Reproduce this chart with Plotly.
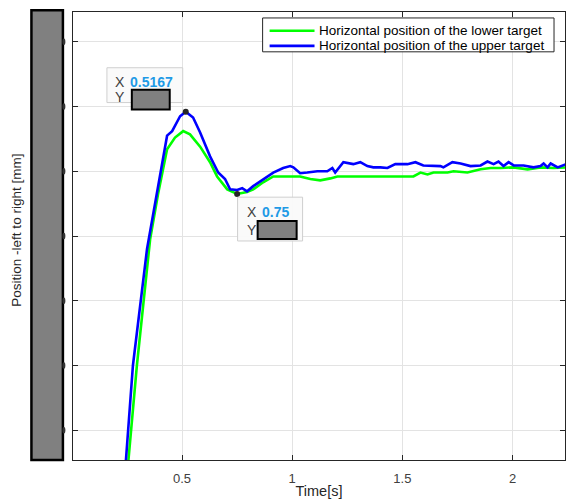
import plotly.graph_objects as go

# ---- data (y in grid units, labels hidden in reference) ----
t_upper = [0.239, 0.277, 0.341, 0.382, 0.432, 0.455, 0.491, 0.5167, 0.550, 0.582, 0.627, 0.664,
           0.695, 0.718, 0.750, 0.773, 0.795, 0.823, 0.868, 0.914, 0.959, 0.991, 1.005, 1.036,
           1.068, 1.114, 1.159, 1.182, 1.195, 1.232, 1.277, 1.309, 1.341, 1.368, 1.400, 1.432,
           1.468, 1.523, 1.559, 1.595, 1.673, 1.686, 1.727, 1.764, 1.809, 1.855, 1.886, 1.914,
           1.936, 1.959, 1.982, 2.005, 2.050, 2.095, 2.127, 2.141, 2.159, 2.173, 2.205, 2.250]
y_upper = [-0.75, 1.00, 2.80, 3.57, 4.55, 4.62, 4.85, 4.92, 4.83, 4.60, 4.23, 3.98,
           3.88, 3.72, 3.71, 3.74, 3.69, 3.77, 3.88, 3.98, 4.05, 4.08, 4.06, 3.97,
           3.98, 4.00, 4.00, 4.05, 3.98, 4.14, 4.11, 4.14, 4.08, 4.06, 4.06, 4.05,
           4.11, 4.11, 4.14, 4.09, 4.08, 4.06, 4.14, 4.12, 4.08, 4.09, 4.15, 4.11,
           4.15, 4.08, 4.14, 4.09, 4.09, 4.06, 4.08, 4.12, 4.06, 4.12, 4.06, 4.12]

t_lower = [0.249, 0.295, 0.355, 0.391, 0.432, 0.468, 0.505, 0.536, 0.582, 0.627, 0.659, 0.705,
           0.750, 0.795, 0.823, 0.868, 0.914, 0.991, 1.036, 1.082, 1.127, 1.173, 1.205, 1.323,
           1.550, 1.582, 1.614, 1.641, 1.705, 1.732, 1.795, 1.855, 1.900, 1.945, 2.005, 2.068,
           2.127, 2.186, 2.250]
y_lower = [-0.75, 1.00, 2.95, 3.65, 4.34, 4.52, 4.62, 4.57, 4.38, 4.14, 3.92, 3.72,
           3.65, 3.68, 3.72, 3.83, 3.92, 3.92, 3.92, 3.88, 3.86, 3.89, 3.92, 3.92,
           3.92, 3.98, 3.95, 3.98, 3.98, 4.00, 3.98, 4.03, 4.05, 4.05, 4.06, 4.03,
           4.06, 4.05, 4.06]

series_names = ["Horizontal position of the lower target",
                "Horizontal position of the upper target"]
series_colors = ["#00ff00", "#0000ff"]

x_ticks = [0.5, 1, 1.5, 2]
x_tick_labels = ["0.5", "1", "1.5", "2"]
y_grid = [0, 1, 2, 3, 4, 5, 6]

tip1 = (0.5167, 4.92)   # data tip on upper target
tip2 = (0.75, 3.65)     # data tip on lower target
tip_labels = ["0.5167", "0.75"]

FONT = "Liberation Sans, Arial, sans-serif"
AX = "#262626"

fig = go.Figure()
fig.add_trace(go.Scatter(x=t_lower, y=y_lower, mode="lines",
                         line=dict(color=series_colors[0], width=2.6),
                         name=series_names[0], showlegend=False))
fig.add_trace(go.Scatter(x=t_upper, y=y_upper, mode="lines",
                         line=dict(color=series_colors[1], width=2.6),
                         name=series_names[1], showlegend=False))

# data tip boxes
for (x0, x1, y0, y1) in [(0.159, 0.503, 5.061, 5.599), (0.752, 1.047, 2.923, 3.60)]:
    fig.add_shape(type="rect", xref="x", yref="y", x0=x0, x1=x1, y0=y0, y1=y1,
                  fillcolor="rgba(250,250,250,0.95)", line=dict(color="#cfcfcf", width=1))
for (x0, x1, y0, y1) in [(0.272, 0.444, 4.953, 5.26), (0.843, 1.02, 2.954, 3.231)]:
    fig.add_shape(type="rect", xref="x", yref="y", x0=x0, x1=x1, y0=y0, y1=y1,
                  fillcolor="#808080", line=dict(color="black", width=2))

fig.add_trace(go.Scatter(x=[tip1[0], tip2[0]], y=[tip1[1], tip2[1]], mode="markers",
                         marker=dict(color="#262626", size=6), showlegend=False,
                         hoverinfo="skip"))

for (xx, yy, txt) in [(0.187, 5.384, "X"), (0.187, 5.14, "Y"), (0.784, 3.369, "X"), (0.784, 3.09, "Y")]:
    fig.add_annotation(x=xx, y=yy, xref="x", yref="y", text=txt, showarrow=False,
                       xanchor="left", yanchor="middle", font=dict(family=FONT, size=14, color="#404040"))
fig.add_annotation(x=0.254, y=5.384, xref="x", yref="y", text="<b>" + tip_labels[0] + "</b>", showarrow=False,
                   xanchor="left", yanchor="middle", font=dict(family=FONT, size=14, color="#1f9ae6"))
fig.add_annotation(x=0.852, y=3.369, xref="x", yref="y", text="<b>" + tip_labels[1] + "</b>", showarrow=False,
                   xanchor="left", yanchor="middle", font=dict(family=FONT, size=14, color="#1f9ae6"))

# gray box hiding y tick labels
fig.add_shape(type="rect", xref="paper", yref="paper", x0=-0.0845, x1=-0.0205, y0=0.0, y1=1.004,
              fillcolor="#808080", line=dict(color="black", width=2.5), layer="above")
for g in y_grid:
    fig.add_shape(type="circle", xref="paper", yref="y", x0=-0.0215, x1=-0.0155,
                  y0=g - 0.05, y1=g + 0.05, fillcolor="#333333", line=dict(width=0))

# legend drawn as a box (MATLAB-like compact legend)
fig.add_shape(type="rect", xref="paper", yref="paper", x0=0.3854, x1=0.9777, y0=0.9111, y1=0.9867,
              fillcolor="white", line=dict(color=AX, width=1))
for i, (nm, col) in enumerate(zip(series_names, series_colors)):
    yl = 0.958 - i * 0.0336
    fig.add_shape(type="line", xref="paper", yref="paper", x0=0.3996, x1=0.4909, y0=yl, y1=yl,
                  line=dict(color=col, width=2.6))
    fig.add_annotation(xref="paper", yref="paper", x=0.4950, y=yl, text=nm, showarrow=False,
                       xanchor="left", yanchor="middle", font=dict(family=FONT, size=13.5, color="#000000"))

fig.update_layout(
    width=569, height=499,
    margin=dict(l=73, r=3, t=12, b=37),
    plot_bgcolor="white", paper_bgcolor="white",
    font=dict(family=FONT, size=12, color=AX),
    showlegend=False,
    xaxis=dict(range=[0.005, 2.238], tickvals=x_ticks, ticktext=x_tick_labels,
               showgrid=True, gridcolor="#e3e3e3", gridwidth=1, zeroline=False,
               showline=True, linecolor=AX, linewidth=1, mirror="ticks",
               ticks="inside", ticklen=5, tickcolor=AX, ticklabelstandoff=6,
               tickfont=dict(family=FONT, size=13, color="#404040"),
               title=dict(text="Time[s]", standoff=0, font=dict(family=FONT, size=14.5, color=AX))),
    yaxis=dict(range=[-0.46, 6.46], tickvals=y_grid, showticklabels=False,
               showgrid=True, gridcolor="#e3e3e3", gridwidth=1, zeroline=False,
               showline=True, linecolor=AX, linewidth=1, mirror="ticks",
               ticks="inside", ticklen=5, tickcolor=AX),
)
fig.add_annotation(xref="paper", yref="paper", x=-0.1156, y=0.5122, text="Position -left to right [mm]",
                   textangle=-90, showarrow=False, xanchor="center", yanchor="middle",
                   font=dict(family=FONT, size=13.5, color=AX))

fig.write_html("out.html", config={"displayModeBar": False},
               post_script="document.body.style.margin='0px';document.body.style.padding='0px';"
                           "document.body.style.overflow='hidden';")
